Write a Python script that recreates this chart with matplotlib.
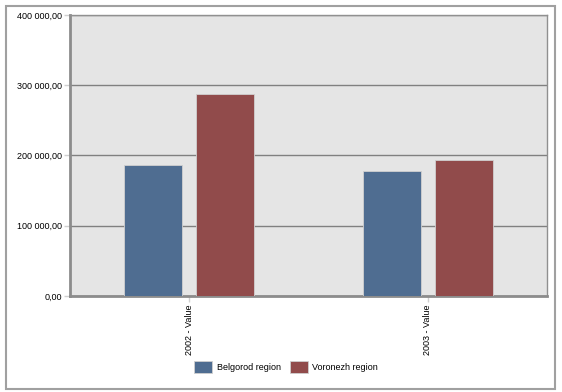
import numpy as np
import matplotlib.pyplot as plt
from matplotlib.patches import Rectangle

plt.rcParams['font.family'] = ['Liberation Sans', 'DejaVu Sans']

# 数据
categories = ['2002 - Value', '2003 - Value']
series_names = ['Belgorod region', 'Voronezh region']
belgorod = [186500, 178000]
voronezh = [287500, 193500]
colors = ['#4F6D91', '#914B4B']

W, H = 562, 392
fig = plt.figure(figsize=(W / 100, H / 100), dpi=100)

# 外框
fig.patches.append(Rectangle((6 / W, 1 - 389 / H), 549 / W, 383 / H, transform=fig.transFigure,
                             fill=False, edgecolor='#A0A0A0', linewidth=1.5))

ax = fig.add_axes([70 / W, 1 - 296 / H, 477 / W, 281 / H])
ax.set_facecolor('#E5E5E5')

x = np.arange(len(categories))
bw = 0.243
off = 0.151
for vals, c, name, s in zip([belgorod, voronezh], colors, series_names, [-1, 1]):
    ax.bar(x + s * off, vals, width=bw, color=c, edgecolor='#D0D0D0', linewidth=0.6,
           label=name, zorder=3)

ax.set_xlim(-0.5, 1.5)
ax.set_ylim(0, 400000)
ax.set_yticks([0, 100000, 200000, 300000, 400000])
ax.set_yticklabels(['0,00', '100 000,00', '200 000,00', '300 000,00', '400 000,00'], fontsize=6.5)
ax.set_xticks(x)
ax.set_xticklabels(categories, rotation=90, fontsize=6.5)
ax.yaxis.grid(True, color='#808080', linewidth=1, zorder=1)
ax.set_axisbelow(True)

for side in ['top', 'right']:
    ax.spines[side].set_color('#909090')
    ax.spines[side].set_linewidth(1)
for side in ['left', 'bottom']:
    ax.spines[side].set_color('#8C8C8C')
    ax.spines[side].set_linewidth(2)
ax.tick_params(axis='both', colors='#D0D0D0', length=4, width=1, labelcolor='black', pad=2)

fig.legend(loc='center', bbox_to_anchor=(286 / W, 1 - 367 / H), ncol=2, frameon=False,
           fontsize=6.5, handlelength=2.0, handleheight=1.6, columnspacing=1.0, handletextpad=0.5)

plt.savefig('out.png', dpi=100)
